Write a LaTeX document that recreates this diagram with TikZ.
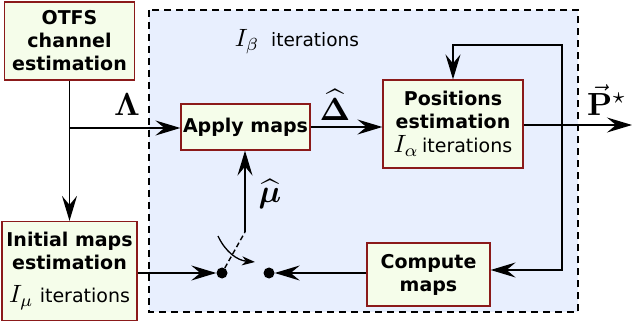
\documentclass[tikz,border=0pt]{standalone}
\usepackage{graphicx}
\usepackage{amsmath,amssymb}
\usepackage[no-math]{fontspec}
\setmainfont{DejaVu Sans}
\usetikzlibrary{arrows.meta,calc}
\definecolor{boxfill}{HTML}{F5FDEA}
\definecolor{boxline}{HTML}{8B1A1A}
\definecolor{regfill}{HTML}{E8EFFE}
\newcommand\mth[1]{\scalebox{2.5}{\normalsize$#1$}}
\newcommand\lblm[1]{\scalebox{3.2}{\normalsize$#1$}}
\begin{document}
\begin{tikzpicture}[x=1pt,y=-1pt,
  blk/.style={draw=boxline,line width=1.2pt,fill=boxfill,align=center,inner sep=0pt,font=\fontsize{19}{23}\selectfont\bfseries},
  arr/.style={line width=1.4pt,-{Stealth[length=25pt,width=15pt,inset=9pt]}},
  lbl/.style={inner sep=0pt},
  dot/.style={circle,fill=black,inner sep=0pt,minimum size=11pt}]
\useasboundingbox (0,0) rectangle (632,331);
\fill[regfill] (149,10) rectangle (578,312);
\draw[line width=1.2pt,dash pattern=on 7pt off 5pt] (149,10) rectangle (578,312);
\node[blk,minimum width=130pt,minimum height=78pt] (otfs) at (69.5,41) {OTFS\\channel\\estimation};
\node[blk,minimum width=129pt,minimum height=46pt] (apply) at (245.5,127) {Apply maps};
\node[blk,minimum width=140pt,minimum height=88pt] (pos) at (453,124) {Positions\\estimation\\[1pt]{\mdseries\mth{I_\alpha}\,iterations}};
\node[blk,minimum width=123pt,minimum height=63pt] (comp) at (428.5,274.5) {Compute\\maps};
\node[blk,minimum width=135pt,minimum height=99pt] (init) at (69.5,271) {Initial maps\\estimation\\[10pt]{\mdseries\mth{I_\mu}\,\,iterations}};
\node[inner sep=0pt,font=\fontsize{18.5}{22}\selectfont] (ib) at (297,42) {\mth{I_\beta}\ \ iterations};
\node[dot] (d1) at (222,273) {};
\node[dot] (d2) at (269,273) {};
\coordinate (lam) at (69.5,128);
\coordinate (split) at (562,125);
\coordinate (top) at (453,45);
\coordinate (out) at (632,125);
\coordinate (sw) at (245,232);
\coordinate (ca) at (218,236);
\coordinate (cb) at (255,262);
\draw[arr] (otfs.south) -- (init.north);
\draw[arr] (lam) -- (apply.west |- lam);
\draw[arr] (apply.east) -- (apply.east -| pos.west);
\draw[arr] (pos.east |- out) -- (out);
\draw[arr] (split) |- (top) -- (pos.north);
\draw[arr] (split) |- (comp.east |- 0,270);
\draw[arr] (comp.west |- d2) -- (d2);
\draw[arr] (init.east |- d1) -- (d1);
\draw[line width=1.4pt,dash pattern=on 5pt off 3pt] (d1) -- (sw);
\draw[arr] (sw) -- (apply.south -| sw);
\draw[line width=1.3pt,-{Stealth[length=13pt,width=9pt,inset=4pt]}] (ca) to[bend right=30] (cb);
\node[lbl] (lamlbl) at (127,105) {\lblm{\boldsymbol{\Lambda}}};
\node[lbl] (dlbl) at (335,105) {\lblm{\widehat{\boldsymbol{\Delta}}}};
\node[lbl] (plbl) at (607,100) {\lblm{\vec{\mathbf{P}}^{\star}}};
\node[lbl] (mlbl) at (270,194) {\lblm{\widehat{\boldsymbol{\mu}}}};
\end{tikzpicture}
\end{document}
